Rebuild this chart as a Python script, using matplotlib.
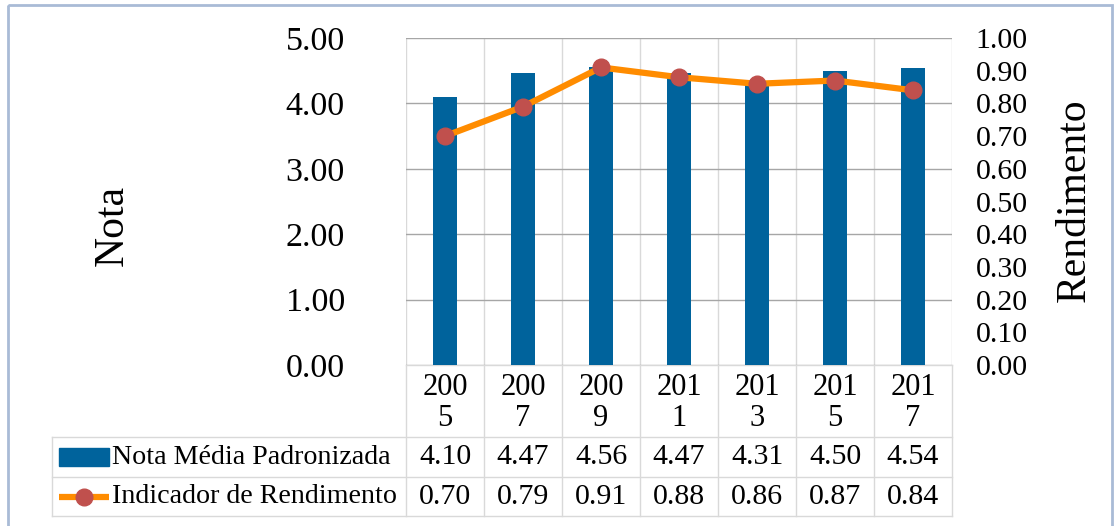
import matplotlib.pyplot as plt
from matplotlib.patches import Rectangle

# data (values from the data table)
years = ["2005", "2007", "2009", "2011", "2013", "2015", "2017"]
nota = [4.10, 4.47, 4.56, 4.47, 4.31, 4.50, 4.54]
rendimento = [0.70, 0.79, 0.91, 0.88, 0.86, 0.87, 0.84]
serie_nota = "Nota Média Padronizada"
serie_rend = "Indicador de Rendimento"
nota_ticks = [0, 1, 2, 3, 4, 5]
rend_ticks = [i / 10 for i in range(11)]

BLUE = "#00639c"
ORANGE = "#ff8c00"
RED = "#c0504d"
GRID = "#a6a6a6"
LIGHT = "#d9d9d9"

plt.rcParams["font.family"] = ["Liberation Serif", "DejaVu Serif"]

W, H = 1120, 526
fig = plt.figure(figsize=(W / 100, H / 100), dpi=100)

# pixel geometry of the plot area
L, R, T, B = 406, 952, 38, 365
n = len(years)
cw = (R - L) / n

# background axes in pixel coordinates, for border and table
bg = fig.add_axes([0, 0, 1, 1])
bg.set_xlim(0, W)
bg.set_ylim(H, 0)
bg.axis("off")
bg.add_patch(Rectangle((8, 5), 1104, 530, fill=False, edgecolor="#a9bbd6", lw=2))

ax = fig.add_axes([L / W, 1 - B / H, (R - L) / W, (B - T) / H])
x = list(range(n))
ax.bar(x, nota, width=0.32, color=BLUE, zorder=2)
ax.set_xlim(-0.5, n - 0.5)
ax.set_ylim(0, 5)
ax.set_yticks(nota_ticks)
ax.set_yticklabels([f"{v:.2f}" for v in nota_ticks], fontsize=24.5)
ax.tick_params(axis="y", length=0, pad=44)
ax.set_xticks([])
ax.grid(axis="y", color=GRID, lw=1, zorder=0)
for k in range(n + 1):
    ax.axvline(k - 0.5, color=LIGHT, lw=1, zorder=0)
for s in ax.spines.values():
    s.set_visible(False)

ax2 = ax.twinx()
ax2.plot(x, rendimento, color=ORANGE, lw=4.5, marker="o", ms=12,
         mfc=RED, mec=RED, zorder=3)
ax2.set_ylim(0, 1)
ax2.set_yticks(rend_ticks)
ax2.set_yticklabels([f"{v:.2f}" for v in rend_ticks], fontsize=21.5)
ax2.tick_params(axis="y", length=0, pad=17)
for s in ax2.spines.values():
    s.set_visible(False)

fig.text(113 / W, 1 - 225 / H, "Nota", rotation=90, fontsize=30,
         ha="center", va="center")
fig.text(1075 / W, 1 - 200 / H, "Rendimento", rotation=90, fontsize=30,
         ha="center", va="center")

# data table under the plot
h_end, r1_end, r2_end = 437, 477, 516
tab_left = 52
for k in range(n + 1):
    xe = L + k * cw
    bg.plot([xe, xe], [B, r2_end], color=LIGHT, lw=1)
bg.plot([tab_left, tab_left], [h_end, r2_end], color=LIGHT, lw=1)
for ye in (h_end, r1_end, r2_end):
    bg.plot([tab_left, R], [ye, ye], color=LIGHT, lw=1)
bg.plot([L, R], [B, B], color=LIGHT, lw=1)

for k, yr in enumerate(years):
    xc = L + (k + 0.5) * cw
    bg.text(xc, (B + h_end) / 2 + 2, yr[:3] + "\n" + yr[3:], fontsize=22,
            ha="center", va="center", linespacing=1.05)
    bg.text(xc, (h_end + r1_end) / 2, f"{nota[k]:.2f}", fontsize=21.5,
            ha="center", va="center")
    bg.text(xc, (r1_end + r2_end) / 2, f"{rendimento[k]:.2f}", fontsize=21.5,
            ha="center", va="center")

# legend keys
y1 = (h_end + r1_end) / 2
y2 = (r1_end + r2_end) / 2
bg.add_patch(Rectangle((59, y1 - 9), 50, 18, color=BLUE))
bg.plot([59, 109], [y2, y2], color=ORANGE, lw=4.5, solid_capstyle="butt")
bg.plot([84], [y2], marker="o", ms=12, color=RED)
bg.text(112, y1, serie_nota, fontsize=20.2, ha="left", va="center")
bg.text(112, y2, serie_rend, fontsize=20.2, ha="left", va="center")

fig.savefig("out.png", dpi=100)
